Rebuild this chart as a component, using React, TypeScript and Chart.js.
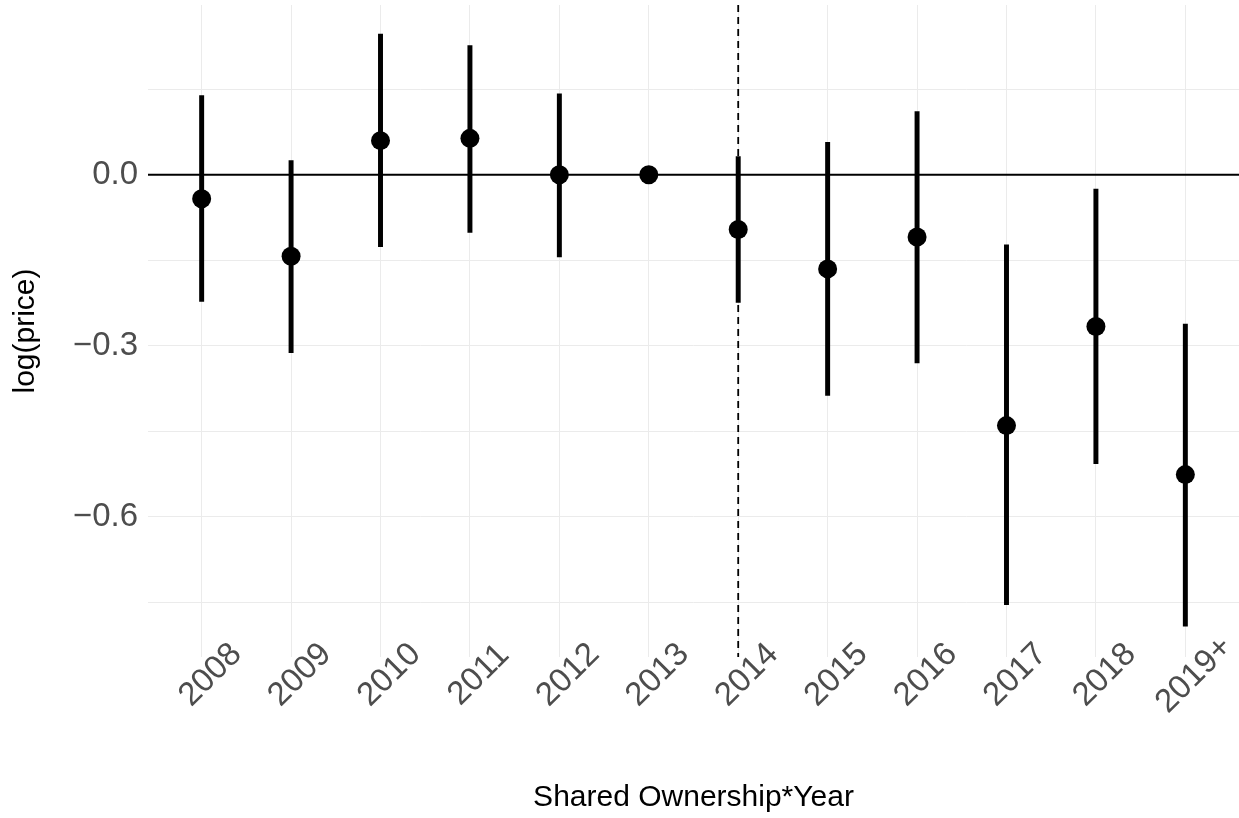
import { useEffect, useRef } from 'react';
import { Chart, registerables } from 'chart.js';

Chart.register(...registerables);

// Event-study coefficients with 95% intervals (2013 is the omitted reference year)
const years = ['2008', '2009', '2010', '2011', '2012', '2013', '2014', '2015', '2016', '2017', '2018', '2019+'];
const estimates = [-0.042, -0.143, 0.06, 0.064, 0.0, 0.0, -0.096, -0.165, -0.109, -0.44, -0.266, -0.526];
const lowerCI: (number | null)[] = [-0.222, -0.312, -0.126, -0.101, -0.144, null, -0.224, -0.387, -0.33, -0.754, -0.507, -0.792];
const upperCI: (number | null)[] = [0.139, 0.025, 0.247, 0.227, 0.142, null, 0.032, 0.057, 0.111, -0.123, -0.025, -0.262];
const policyYear = '2014';

const yMin = -0.846;
const yMax = 0.298;
const gridStep = 0.15;
const labelStep = 0.3;

const xTitle = 'Shared Ownership*Year';
const yTitle = 'log(price)';

const FONT = "'Liberation Sans', Arial, Helvetica, sans-serif";
const TICK_COLOR = '#4d4d4d';
const GRID_COLOR = '#ebebeb';

const xMin = -0.6;
const xMax = years.length - 1 + 0.6;

// Rotated year labels, centred a little below-right of each tick
const yearLabels = {
  id: 'yearLabels',
  afterDraw(chart: any) {
    const { ctx } = chart;
    const x = chart.scales.x;
    ctx.save();
    ctx.font = `33px ${FONT}`;
    ctx.fillStyle = TICK_COLOR;
    ctx.textAlign = 'center';
    ctx.textBaseline = 'middle';
    years.forEach((label, i) => {
      const px = x.getPixelForValue(i);
      ctx.save();
      ctx.translate(px + 9, x.top + 18);
      ctx.rotate(-Math.PI / 4);
      ctx.fillText(label, 0, 0);
      ctx.restore();
    });
    ctx.restore();
  },
};

export default function App() {
  const canvasRef = useRef<HTMLCanvasElement>(null);

  useEffect(() => {
    document.body.style.margin = '0';
    const canvas = canvasRef.current;
    if (!canvas) return;

    Chart.defaults.font.family = FONT;

    const policyIndex = years.indexOf(policyYear);

    const pointData = estimates.map((y, i) => ({ x: i, y }));
    const intervalData = years
      .map((_, i) =>
        lowerCI[i] == null || upperCI[i] == null ? null : { x: i, y: [lowerCI[i] as number, upperCI[i] as number] }
      )
      .filter((d) => d !== null);

    const chart = new Chart(canvas, {
      type: 'scatter',
      data: {
        datasets: [
          {
            type: 'scatter',
            data: pointData,
            pointRadius: 9.5,
            pointHoverRadius: 9.5,
            pointBackgroundColor: '#000',
            pointBorderWidth: 0,
            order: 0,
          } as any,
          {
            type: 'bar',
            data: intervalData,
            backgroundColor: '#000',
            borderWidth: 0,
            barThickness: 4.3,
            order: 1,
          } as any,
          {
            type: 'line',
            data: [
              { x: xMin, y: 0 },
              { x: xMax, y: 0 },
            ],
            borderColor: '#000',
            borderWidth: 2,
            pointRadius: 0,
            order: 2,
          } as any,
          {
            type: 'line',
            data: [
              { x: policyIndex, y: yMax },
              { x: policyIndex, y: yMin },
            ],
            borderColor: '#000',
            borderWidth: 1.8,
            borderDash: [7, 5],
            pointRadius: 0,
            order: 3,
          } as any,
        ],
      },
      options: {
        responsive: false,
        animation: false,
        devicePixelRatio: 1,
        layout: { autoPadding: false, padding: { top: 5, left: 0, right: 0, bottom: 0 } },
        plugins: {
          legend: { display: false },
          tooltip: { enabled: false },
        },
        scales: {
          x: {
            type: 'linear',
            min: xMin,
            max: xMax,
            offset: false,
            grid: { color: GRID_COLOR, lineWidth: 1, drawTicks: false, offset: false },
            border: { display: false },
            ticks: { display: false, stepSize: 1, includeBounds: false },
            title: {
              display: true,
              text: xTitle,
              color: '#000',
              font: { size: 30, family: FONT },
              padding: { top: 0, bottom: 2 },
            },
            afterFit: (s: any) => {
              s.height = 161;
              s.paddingLeft = 0;
              s.paddingRight = 0;
            },
          },
          y: {
            type: 'linear',
            min: yMin,
            max: yMax,
            grid: { color: GRID_COLOR, lineWidth: 1, drawTicks: false },
            border: { display: false },
            ticks: {
              stepSize: gridStep,
              includeBounds: false,
              autoSkip: false,
              padding: 10,
              color: TICK_COLOR,
              font: { size: 33, family: FONT },
              callback: (v: any) => {
                const n = Number(v);
                const k = n / labelStep;
                if (Math.abs(k - Math.round(k)) > 1e-6) return '';
                if (Math.abs(n) < 1e-9) return '0.0';
                return n.toFixed(1).replace('-', '\u2212');
              },
            },
            title: {
              display: true,
              text: yTitle,
              color: '#000',
              font: { size: 30, family: FONT },
              padding: { top: 8, bottom: 0 },
            },
            afterFit: (s: any) => {
              s.width = 148;
              s.paddingTop = 0;
              s.paddingBottom = 0;
            },
          },
        },
      } as any,
      plugins: [yearLabels],
    });

    return () => chart.destroy();
  }, []);

  return (
    <div style={{ width: 1239, height: 818 }}>
      <canvas ref={canvasRef} width={1239} height={818} style={{ display: 'block' }} />
    </div>
  );
}
